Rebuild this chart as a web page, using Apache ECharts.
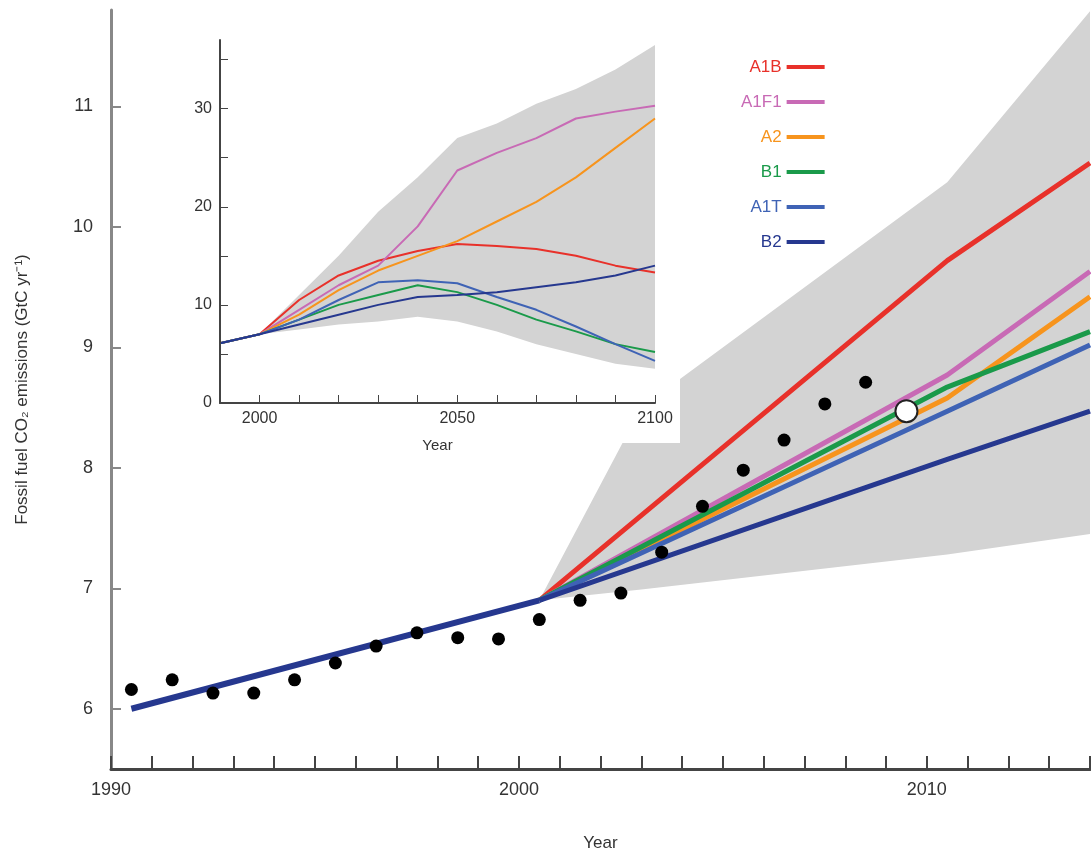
<!DOCTYPE html>
<html>
<head>
<meta charset="utf-8">
<script src="https://cdn.jsdelivr.net/npm/echarts@6/dist/echarts.min.js"></script>
<style>html,body{margin:0;padding:0;background:#fff}#c{width:1091px;height:856px}</style>
</head>
<body>
<div id="c"></div>
<script>
// observed emissions (mid-year)
var obsYears = [1990.5,1991.5,1992.5,1993.5,1994.5,1995.5,1996.5,1997.5,1998.5,1999.5,2000.5,2001.5,2002.5,2003.5,2004.5,2005.5,2006.5,2007.5,2008.5];
var obsValues = [6.16,6.24,6.13,6.13,6.24,6.38,6.52,6.63,6.59,6.58,6.74,6.90,6.96,7.30,7.68,7.98,8.23,8.53,8.71];
var estYear = [2009.5];
var estValue = [8.47];

var histYears = [1990.5, 2000.5];
var histValues = [6.0, 6.9];

var names = ['A1B','A1F1','A2','B1','A1T','B2'];
var colors = ['#e8312a','#c86ab5','#f7941d','#1a9a4a','#3f63b5','#26388f'];

var scenYears = [2000.5, 2010.5, 2014];
var scenValues = {
  A1B:  [6.9, 9.72, 10.53],
  A1F1: [6.9, 8.77, 9.63],
  A2:   [6.9, 8.58, 9.42],
  B1:   [6.9, 8.67, 9.13],
  A1T:  [6.9, 8.47, 9.02],
  B2:   [6.9, 8.07, 8.47]
};
var bandYears = [2000.5, 2003, 2010.5, 2014];
var bandLow = [6.9, 6.99, 7.28, 7.45];
var bandHigh = [6.9, 8.5, 10.37, 11.79];

// inset: long-term scenarios
var insetYears = [1990,2000,2010,2020,2030,2040,2050,2060,2070,2080,2090,2100];
var insetValues = {
  A1B:  [6.1,7,10.5,13,14.5,15.5,16.2,16,15.7,15,14,13.3],
  A1F1: [6.1,7,9.5,12,14,18,23.7,25.5,27,29,29.7,30.3],
  A2:   [6.1,7,9,11.5,13.5,15,16.5,18.5,20.5,23,26,29],
  B1:   [6.1,7,8.5,10,11,12,11.3,10,8.5,7.3,6,5.2],
  A1T:  [6.1,7,8.5,10.5,12.3,12.5,12.2,10.8,9.5,7.8,6,4.3],
  B2:   [6.1,7,8,9,10,10.8,11,11.3,11.8,12.3,13,14]
};
var insetBandYears = [2000,2010,2020,2030,2040,2050,2060,2070,2080,2090,2100];
var insetBandLow = [7,7.5,8,8.3,8.8,8.3,7.3,6,5,4,3.5];
var insetBandHigh = [7,11,15,19.5,23,27,28.5,30.5,32,34,36.5];

function pairs(xs, ys) { return xs.map(function (x, i) { return [x, ys[i]]; }); }

// band drawn as polygon through the axes' own coordinate system
function bandSeries(xs, lo, hi, axisIndex, z) {
  var data = xs.map(function (x, i) { return [x, lo[i], hi[i]]; });
  return {
    type: 'custom', xAxisIndex: axisIndex, yAxisIndex: axisIndex, silent: true, z: z,
    data: data,
    encode: {x: 0, y: [1, 2]},
    renderItem: function (params, api) {
      if (params.dataIndex !== 0) return;
      var top = [], bot = [];
      data.forEach(function (d) {
        top.push(api.coord([d[0], d[2]]));
        bot.unshift(api.coord([d[0], d[1]]));
      });
      return {type: 'polygon', shape: {points: top.concat(bot)}, style: {fill: '#d3d3d3'}};
    }
  };
}

var font = 'Liberation Sans';
var series = [];
series.push(bandSeries(bandYears, bandLow, bandHigh, 0, 1));
// white backdrop for the inset so the main band does not show through
series.push({
  type: 'custom', xAxisIndex: 1, yAxisIndex: 1, silent: true, z: 2, data: [[1990, 0]],
  renderItem: function (params, api) {
    var cs = params.coordSys;
    return {type: 'rect', shape: {x: cs.x, y: cs.y, width: cs.width + 25, height: cs.height + 40}, style: {fill: '#fff'}};
  }
});
series.push(bandSeries(insetBandYears, insetBandLow, insetBandHigh, 1, 2.5));

names.forEach(function (n, i) {
  series.push({name:n, type:'line', xAxisIndex:0, yAxisIndex:0, data:pairs(scenYears, scenValues[n]), symbol:'none', color:colors[i], lineStyle:{color:colors[i], width:5}, z:3});
  series.push({name:n, type:'line', xAxisIndex:1, yAxisIndex:1, data:pairs(insetYears, insetValues[n]), symbol:'none', color:colors[i], lineStyle:{color:colors[i], width:2}, z:3});
});
series.push({type:'line', xAxisIndex:0, yAxisIndex:0, data:pairs(histYears, histValues), symbol:'none', lineStyle:{color:'#26388f', width:6}, z:4});
series.push({type:'scatter', xAxisIndex:0, yAxisIndex:0, data:pairs(obsYears, obsValues), symbolSize:13, itemStyle:{color:'#000', opacity:1}, z:5});
series.push({type:'scatter', xAxisIndex:0, yAxisIndex:0, data:pairs(estYear, estValue), symbolSize:22, itemStyle:{color:'#fff', borderColor:'#222', borderWidth:2, opacity:1}, z:5});

var chart = echarts.init(document.getElementById('c'));
chart.setOption({
  animation: false,
  textStyle: {fontFamily: font},
  legend: {
    data: names.map(function (n, i) { return {name:n, textStyle:{color:colors[i]}}; }),
    orient: 'vertical', left: 736, top: 52, itemGap: 15, align: 'right',
    icon: 'rect', itemWidth: 38, itemHeight: 4,
    textStyle: {fontSize: 17, fontFamily: font, lineHeight: 20}
  },
  grid: [
    {left: 111, right: 1, top: 10, bottom: 87, outerBoundsMode: 'none', containLabel: false},
    {left: 220, top: 40, width: 435, height: 363, outerBoundsMode: 'none', containLabel: false}
  ],
  xAxis: [
    {type:'value', gridIndex:0, min:1990, max:2014, interval:1,
     name:'Year', nameLocation:'middle', nameGap:66, nameTextStyle:{fontSize:17, color:'#333'},
     axisLine:{lineStyle:{color:'#444', width:3}},
     axisTick:{inside:true, length:13, lineStyle:{color:'#444', width:2}},
     axisLabel:{fontSize:18, color:'#333', margin:12, formatter:function (v) { return v % 10 === 0 ? String(v) : ''; }},
     splitLine:{show:false}},
    {type:'value', gridIndex:1, min:1990, max:2100, interval:10, z:6,
     name:'Year', nameLocation:'middle', nameGap:35, nameTextStyle:{fontSize:15, color:'#333'},
     axisLine:{lineStyle:{color:'#444', width:2}},
     axisTick:{inside:true, length:8, lineStyle:{color:'#444'}},
     axisLabel:{fontSize:16, color:'#333', showMaxLabel:true, hideOverlap:false, formatter:function (v) { return v % 50 === 0 ? String(v) : ''; }},
     splitLine:{show:false}}
  ],
  yAxis: [
    {type:'value', gridIndex:0, min:5.5, max:11.8,
     name:'Fossil fuel CO\u2082 emissions (GtC yr\u207B\u00B9)', nameLocation:'middle', nameGap:80,
     nameTextStyle:{fontSize:17, color:'#333'},
     axisLine:{show:true, onZero:false, lineStyle:{color:'#888', width:3}},
     axisTick:{inside:true, length:10, customValues:[6,7,8,9,10,11], lineStyle:{color:'#888', width:2}},
     axisLabel:{fontSize:18, color:'#333', margin:18, customValues:[6,7,8,9,10,11]},
     splitLine:{show:false}},
    {type:'value', gridIndex:1, min:0, max:37, z:6,
     axisLine:{show:true, onZero:false, lineStyle:{color:'#444', width:2}},
     axisTick:{inside:true, length:8, customValues:[0,5,10,15,20,25,30,35], lineStyle:{color:'#444'}},
     axisLabel:{fontSize:16, color:'#333', customValues:[0,10,20,30]},
     splitLine:{show:false}}
  ],
  series: series
});
</script>
</body>
</html>
